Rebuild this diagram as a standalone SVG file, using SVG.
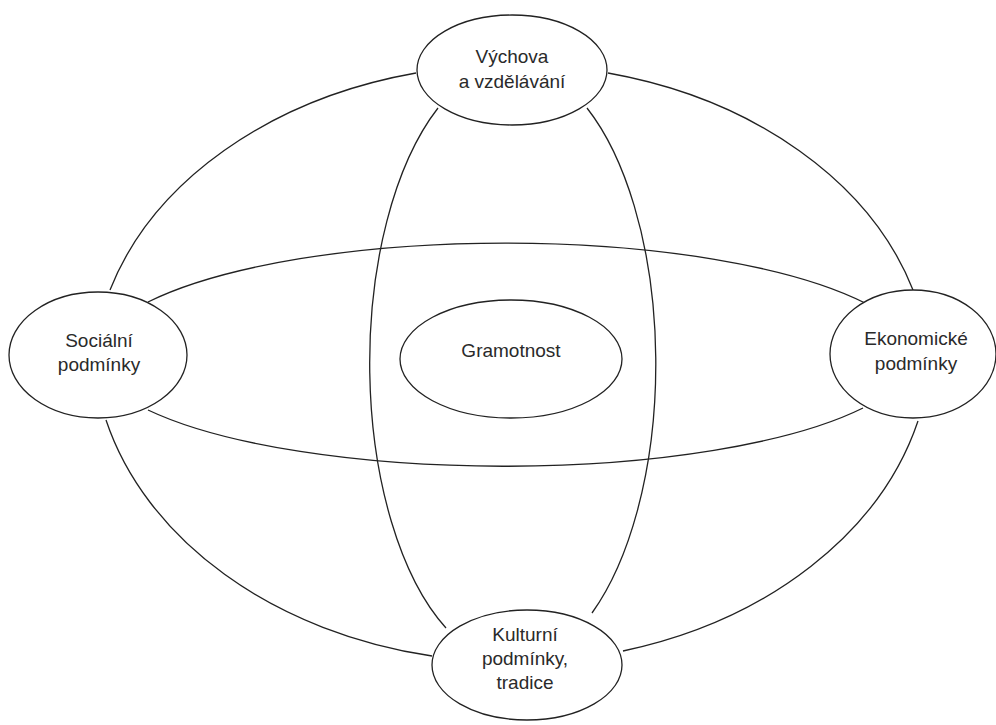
<svg xmlns="http://www.w3.org/2000/svg" width="996" height="725" viewBox="0 0 996 725">
<style>
.edge{fill:none;stroke:#222;stroke-width:1.3}
.node ellipse{fill:#fff;stroke:#222;stroke-width:1.3}
.node text{font-family:"Liberation Sans",Arial,sans-serif;font-size:19px;fill:#2a2a2a;text-anchor:middle}
</style>
<rect width="996" height="725" fill="#fff"/>
<g id="connectors">
<path class="edge" d="M110,290 A419,315 0 0 1 416,73"/>
<path class="edge" d="M608,73 A419,315 0 0 1 913,290"/>
<path class="edge" d="M106,420 A419,322 0 0 0 432,656"/>
<path class="edge" d="M918,421 A419,322 0 0 1 623,651"/>
<path class="edge" d="M148,302 A413,118 0 0 1 865,303"/>
<path class="edge" d="M148,410 A411,113 0 0 0 863,408"/>
<path class="edge" d="M438,108 A144,300 0 0 0 446,628"/>
<path class="edge" d="M587,108 A144,300 0 0 1 592,613"/>
</g>
<g id="vychova" class="node">
<ellipse cx="512" cy="70" rx="95" ry="55"/>
<text x="512" y="63">Výchova</text>
<text x="512" y="88">a vzdělávání</text>
</g>
<g id="socialni" class="node">
<ellipse cx="98" cy="355" rx="89" ry="63"/>
<text x="99" y="347">Sociální</text>
<text x="99" y="371">podmínky</text>
</g>
<g id="gramotnost" class="node">
<ellipse cx="511" cy="359" rx="111" ry="59"/>
<text x="511" y="357">Gramotnost</text>
</g>
<g id="ekonomicke" class="node">
<ellipse cx="913" cy="354" rx="83" ry="64"/>
<text x="916" y="345">Ekonomické</text>
<text x="916" y="370">podmínky</text>
</g>
<g id="kulturni" class="node">
<ellipse cx="527" cy="665" rx="95" ry="55"/>
<text x="525" y="641">Kulturní</text>
<text x="525" y="665">podmínky,</text>
<text x="525" y="689">tradice</text>
</g>
</svg>
